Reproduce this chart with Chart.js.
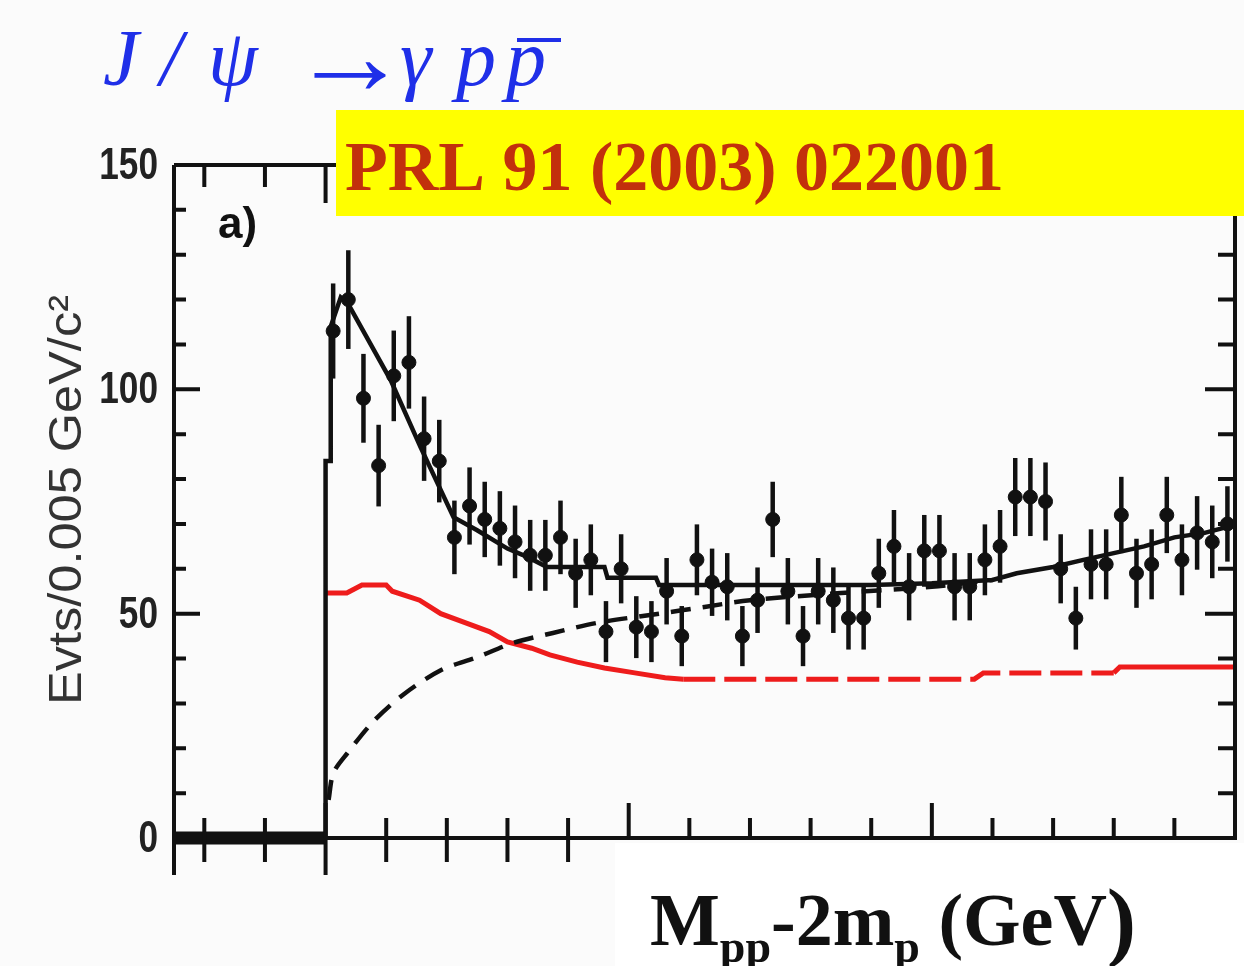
<!DOCTYPE html>
<html>
<head>
<meta charset="utf-8">
<script src="https://cdn.jsdelivr.net/npm/chart.js@4.4.1/dist/chart.umd.min.js"></script>
<style>
  html, body { margin: 0; padding: 0; background: #fbfbfb; }
  #wrap { position: relative; width: 1244px; height: 966px; }
</style>
</head>
<body>
<div id="wrap"><canvas id="plot"></canvas></div>
<script>
// histogram: events per 0.005 GeV bin, starting at threshold (x = 0)
const binWidth = 0.005;
const counts = [113, 120, 98, 83, 103, 106, 89, 84, 67, 74,
                71, 69, 66, 63, 63, 67, 59, 62, 46, 60,
                47, 46, 55, 45, 62, 57, 56, 45, 53, 71,
                55, 45, 55, 53, 49, 49, 59, 65, 56, 64,
                64, 56, 56, 62, 65, 76, 76, 75, 60, 49,
                61, 61, 72, 59, 61, 72, 62, 68, 66, 70];
const countErrors = [10.6, 11.0, 9.9, 9.1, 10.1, 10.3, 9.4, 9.2, 8.2, 8.6,
                     8.4, 8.3, 8.1, 7.9, 7.9, 8.2, 7.7, 7.9, 6.8, 7.7,
                     6.9, 6.8, 7.4, 6.7, 7.9, 7.5, 7.5, 6.7, 7.3, 8.4,
                     7.4, 6.7, 7.4, 7.3, 7.0, 7.0, 7.7, 8.1, 7.5, 8.0,
                     8.0, 7.5, 7.5, 7.9, 8.1, 8.7, 8.7, 8.7, 7.7, 7.0,
                     7.8, 7.8, 8.5, 7.7, 7.8, 8.5, 7.9, 8.2, 8.1, 8.4];

// total fit (solid black)
const fitX = [0, 0, 0.0017, 0.0017, 0.005, 0.0075, 0.0215, 0.0314, 0.0422, 0.05,
              0.06, 0.0667, 0.073, 0.092, 0.093, 0.109, 0.11, 0.18, 0.2, 0.22,
              0.228, 0.24, 0.25, 0.26, 0.27, 0.28, 0.29, 0.3];
const fitY = [0, 84, 84, 114, 120.5, 119, 102, 87, 71.5, 68.6,
              64.5, 62.6, 60.4, 60.4, 58, 58, 56.4, 56.4, 56.8, 57.5,
              59, 60.4, 62, 63.5, 65, 67, 68, 69.8];

// phase space (dashed black)
const phaseX = [0.001, 0.0026, 0.0073, 0.0158, 0.0257, 0.038, 0.05, 0.062, 0.075, 0.09,
                0.11, 0.125, 0.14, 0.17, 0.2, 0.22];
const phaseY = [8.5, 14.5, 19, 26, 32, 37.4, 40.3, 43.5, 45.7, 48,
                50, 51.5, 53, 54.6, 56, 57.5];

// extra curve (red)
const redX = [0, 0.007, 0.012, 0.02, 0.022, 0.031, 0.038, 0.046, 0.054, 0.06,
              0.068, 0.074, 0.083, 0.092, 0.102, 0.112, 0.118, 0.214, 0.217, 0.26,
              0.262, 0.3];
const redY = [54.6, 54.6, 56.4, 56.4, 55, 53, 50, 48, 46, 43.7,
              42.3, 40.8, 39.2, 37.9, 36.8, 35.7, 35.4, 35.4, 36.8, 36.8,
              38.1, 38.1];

// below threshold: empty bins
const emptyX = [-0.05, 0];
const emptyY = [0, 0];

const yTickValues = [0, 50, 100, 150];
const yTickLabels = ['0', '50', '100', '150'];
const xMajorTicks = [0, 0.1, 0.2, 0.3];
const xMinorTicks = [-0.04, -0.02, 0.02, 0.04, 0.06, 0.08, 0.12, 0.14, 0.16, 0.18, 0.22, 0.24, 0.26, 0.28];
const yMinorTicks = [10, 20, 30, 40, 60, 70, 80, 90, 110, 120, 130, 140];

const pts = (xs, ys) => xs.map((v, i) => ({ x: v, y: ys[i] }));

const decor = {
  id: 'decor',
  beforeDatasetsDraw(chart) {
    const { ctx, scales: { x, y } } = chart;
    ctx.save();
    ctx.strokeStyle = '#111';
    ctx.lineWidth = 4.5;
    counts.forEach((c, i) => {
      const px = x.getPixelForValue((i + 0.5) * binWidth);
      ctx.beginPath();
      ctx.moveTo(px, y.getPixelForValue(c - countErrors[i]));
      ctx.lineTo(px, y.getPixelForValue(c + countErrors[i]));
      ctx.stroke();
    });
    ctx.restore();
  },
  afterDraw(chart) {
    const { ctx, scales: { x, y } } = chart;
    const L = x.getPixelForValue(-0.05), R = x.getPixelForValue(0.3);
    const T = y.getPixelForValue(150), B = y.getPixelForValue(0);
    const x0 = x.getPixelForValue(0);
    ctx.save();

    // white strip under the axis (picture was cut there)
    ctx.fillStyle = '#ffffff';
    ctx.fillRect(615, B + 5, 1244 - 615, 966 - B - 5);

    // frame
    ctx.strokeStyle = '#111';
    ctx.lineWidth = 4;
    ctx.beginPath();
    ctx.moveTo(L, T); ctx.lineTo(R, T); ctx.lineTo(R, B); ctx.lineTo(L, B);
    ctx.moveTo(L, T); ctx.lineTo(L, B + 37);
    ctx.moveTo(x0, B); ctx.lineTo(x0, B + 37);
    ctx.stroke();

    // y ticks (inside, both sides)
    ctx.beginPath();
    yTickValues.forEach(v => {
      const py = y.getPixelForValue(v);
      ctx.moveTo(L, py); ctx.lineTo(L + 26, py);
      ctx.moveTo(R, py); ctx.lineTo(R - 30, py);
    });
    yMinorTicks.forEach(v => {
      const py = y.getPixelForValue(v);
      ctx.moveTo(L, py); ctx.lineTo(L + 12, py);
      ctx.moveTo(R, py); ctx.lineTo(R - 17, py);
    });
    // x ticks
    xMajorTicks.forEach(v => {
      const px = x.getPixelForValue(v);
      ctx.moveTo(px, B); ctx.lineTo(px, B - 35);
      ctx.moveTo(px, T); ctx.lineTo(px, T + 38);
    });
    xMinorTicks.forEach(v => {
      const px = x.getPixelForValue(v);
      ctx.moveTo(px, B - 20);
      ctx.lineTo(px, px < 615 ? B + 24 : B);
      ctx.moveTo(px, T); ctx.lineTo(px, T + 22);
    });
    ctx.stroke();

    // y tick labels
    ctx.fillStyle = '#222';
    ctx.font = 'bold 44px "Liberation Sans", Arial, sans-serif';
    ctx.textBaseline = 'middle';
    yTickValues.forEach((v, i) => {
      const py = y.getPixelForValue(v) + 2;
      ctx.save();
      ctx.translate(158, py);
      ctx.scale(0.8, 1);
      ctx.textAlign = 'right';
      ctx.fillText(yTickLabels[i], 0, 0);
      ctx.restore();
    });

    // y axis title
    ctx.save();
    ctx.translate(68, 500);
    ctx.rotate(-Math.PI / 2);
    ctx.font = '46px "Liberation Sans", Arial, sans-serif';
    const yTitle = 'Evts/0.005 GeV/c²';
    const w = ctx.measureText(yTitle).width;
    ctx.scale(410 / w, 1);
    ctx.textAlign = 'center';
    ctx.textBaseline = 'middle';
    ctx.fillStyle = '#333';
    ctx.fillText(yTitle, 0, 0);
    ctx.restore();

    // panel tag
    ctx.font = 'bold 44px "Liberation Sans", Arial, sans-serif';
    ctx.textAlign = 'left';
    ctx.textBaseline = 'alphabetic';
    ctx.fillStyle = '#111';
    ctx.fillText('a)', 218, 238);

    // yellow reference box
    ctx.fillStyle = '#ffff00';
    ctx.fillRect(336, 110, 1244 - 336, 106);
    ctx.fillStyle = '#c2300c';
    ctx.font = 'bold 70px "Liberation Serif", "Times New Roman", serif';
    ctx.fillText('PRL 91 (2003) 022001', 345, 190);

    // reaction title
    ctx.fillStyle = '#1f2fe8';
    const it = 'italic 80px "Liberation Serif", "Times New Roman", serif';
    ctx.font = it;
    ctx.fillText('J', 103, 85);
    ctx.fillText('/', 160, 85);
    ctx.fillText('ψ', 208, 85);
    ctx.font = '80px "Liberation Serif", "Times New Roman", serif';
    ctx.save();
    ctx.translate(290, 94);
    const aw = ctx.measureText('→').width;
    ctx.scale(120 / aw, 1.4);
    ctx.fillText('→', 0, 0);
    ctx.restore();
    ctx.font = it;
    ctx.fillText('γ', 400, 85);
    ctx.fillText('p', 456, 85);
    ctx.fillText('p', 506, 85);
    ctx.strokeStyle = '#1f2fe8';
    ctx.lineWidth = 4;
    ctx.beginPath();
    ctx.moveTo(517, 40); ctx.lineTo(561, 40);
    ctx.stroke();

    // x axis title
    ctx.fillStyle = '#111';
    const big = 'bold 74px "Liberation Serif", "Times New Roman", serif';
    const small = 'bold 46px "Liberation Serif", "Times New Roman", serif';
    let cx = 650;
    const put = (txt, font, base) => {
      ctx.font = font;
      ctx.fillText(txt, cx, base);
      cx += ctx.measureText(txt).width;
    };
    put('M', big, 945);
    put('pp', small, 962);
    put('-2m', big, 945);
    put('p', small, 962);
    put(' (GeV', big, 945);
    put(')', 'bold 88px "Liberation Serif", "Times New Roman", serif', 950);

    ctx.restore();
  }
};

new Chart(document.getElementById('plot').getContext('2d'), {
  type: 'scatter',
  data: {
    datasets: [
      {
        label: 'data',
        data: counts.map((c, i) => ({ x: (i + 0.5) * binWidth, y: c })),
        backgroundColor: '#111',
        borderColor: '#111',
        pointRadius: 7,
        pointHoverRadius: 7,
        order: 0
      },
      {
        label: 'fit',
        type: 'line',
        data: pts(fitX, fitY),
        borderColor: '#111',
        borderWidth: 4.5,
        pointRadius: 0,
        fill: false,
        tension: 0,
        order: 1
      },
      {
        label: 'phase space',
        type: 'line',
        data: pts(phaseX, phaseY),
        borderColor: '#111',
        borderWidth: 4.5,
        borderDash: [20, 12],
        pointRadius: 0,
        fill: false,
        tension: 0.3,
        order: 2
      },
      {
        label: 'red',
        type: 'line',
        data: pts(redX, redY),
        borderColor: '#ee1c1c',
        borderWidth: 5,
        pointRadius: 0,
        fill: false,
        tension: 0,
        segment: {
          borderDash: c => (c.p0.parsed.x >= 0.118 && c.p1.parsed.x <= 0.26) ? [32, 9] : undefined
        },
        order: 3
      },
      {
        label: 'empty',
        type: 'line',
        data: pts(emptyX, emptyY),
        borderColor: '#111',
        borderWidth: 13,
        pointRadius: 0,
        fill: false,
        clip: 10,
        order: 4
      }
    ]
  },
  options: {
    responsive: true,
    maintainAspectRatio: false,
    animation: false,
    layout: { padding: { left: 174, right: 9, top: 165, bottom: 128 } },
    plugins: {
      legend: { display: false },
      tooltip: { enabled: false }
    },
    scales: {
      x: { type: 'linear', min: -0.05, max: 0.3, display: false },
      y: { min: 0, max: 150, display: false }
    }
  },
  plugins: [decor]
});
</script>
</body>
</html>
